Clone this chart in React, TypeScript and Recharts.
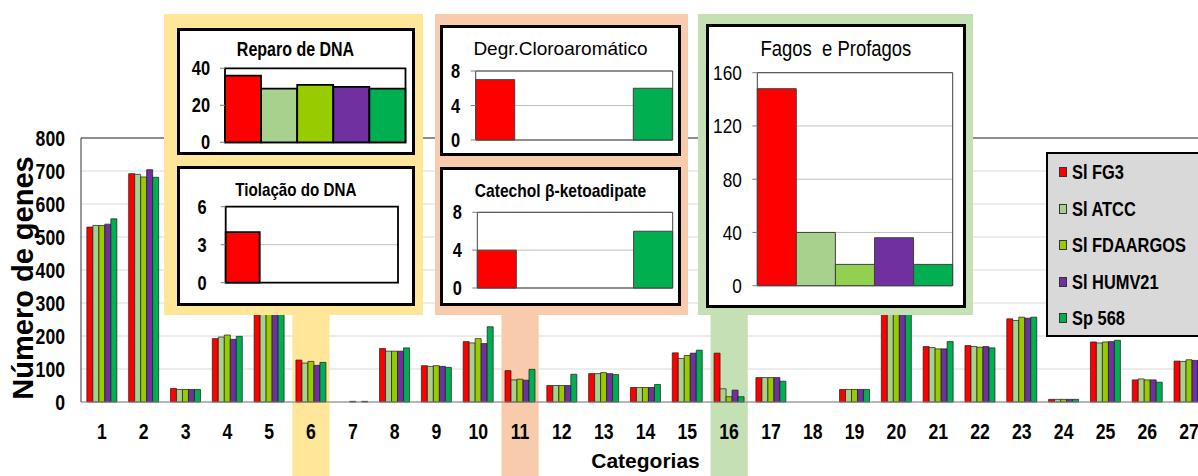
import React from 'react';
import {
  BarChart, Bar, XAxis, YAxis, CartesianGrid, ReferenceArea, ReferenceLine, Cell, Label,
} from 'recharts';

// ---- data ----
const categories = [
  '1', '2', '3', '4', '5', '6', '7', '8', '9', '10', '11', '12', '13', '14',
  '15', '16', '17', '18', '19', '20', '21', '22', '23', '24', '25', '26', '27',
];
const slFG3 = [530, 692, 41, 192, 320, 127, 0, 162, 110, 183, 95, 50, 86, 44, 149, 148, 74, 0, 38, 345, 168, 171, 252, 8, 182, 67, 124];
const slATCC = [535, 690, 38, 197, 318, 118, 0, 154, 108, 179, 67, 50, 86, 44, 132, 40, 74, 0, 38, 342, 165, 168, 247, 8, 179, 70, 123];
const slFDAARGOS = [535, 682, 38, 203, 322, 123, 2, 154, 110, 192, 69, 50, 89, 44, 141, 16, 74, 0, 38, 348, 161, 166, 257, 8, 182, 67, 128];
const slHUMV21 = [539, 704, 38, 190, 316, 111, 0, 154, 108, 177, 66, 50, 86, 44, 148, 36, 74, 0, 38, 344, 161, 168, 254, 8, 183, 67, 126];
const sp568 = [555, 681, 38, 199, 325, 120, 2, 164, 105, 228, 99, 84, 83, 53, 157, 16, 63, 0, 38, 350, 183, 164, 257, 8, 187, 60, 125];

const seriesNames = ['Sl FG3', 'Sl ATCC', 'Sl FDAARGOS', 'Sl HUMV21', 'Sp 568'];
const seriesKeys = ['fg3', 'atcc', 'fdaargos', 'humv21', 'sp568'];
const seriesColors = ['#FF0000', '#A9D18E', '#99CC00', '#7030A0', '#00B050'];
const yTicks = [0, 100, 200, 300, 400, 500, 600, 700, 800];

// highlighted categories and their callout colours
const highlights = [
  { category: '6', color: '#FFE699' },
  { category: '11', color: '#F8CBAD' },
  { category: '16', color: '#C5E0B4' },
];

// inset values, one per strain
const reparoValues = [36, 29, 31, 30, 29];
const tiolacaoValues = [4, 0, 0, 0, 0];
const cloroValues = [7, 0, 0, 0, 6];
const catecholValues = [4, 0, 0, 0, 6];
const fagosValues = [148, 40, 16, 36, 16];
const fagosColors = ['#FF0000', '#A9D18E', '#92D050', '#7030A0', '#00B050'];

const seriesData = [slFG3, slATCC, slFDAARGOS, slHUMV21, sp568];
const mainData = categories.map((cat, i) => {
  const row: Record<string, string | number> = { cat };
  seriesKeys.forEach((k, s) => { row[k] = seriesData[s][i]; });
  return row;
});

const SANS = '"Liberation Sans", Arial, sans-serif';
// no narrow face installed, so squeeze Liberation Sans horizontally
const SQUEEZE = 0.82;

type TickOpts = { size: number; weight: number; axis: 'x' | 'y' };
const narrowTick = (o: TickOpts) => (props: any) => {
  const { x, y, payload } = props;
  const isX = o.axis === 'x';
  return (
    <text transform={`translate(${x},${y}) scale(${SQUEEZE},1)`} textAnchor={isX ? 'middle' : 'end'}
      dy={isX ? '0.71em' : '0.355em'} fill="#000" fontFamily={SANS} fontSize={o.size} fontWeight={o.weight}>
      {payload.value}
    </text>
  );
};

const NarrowText = ({ children, origin = 'center', style }: { children: React.ReactNode; origin?: string; style?: React.CSSProperties }) => (
  <span style={{
    display: 'inline-block', transform: `scaleX(${SQUEEZE})`, transformOrigin: origin,
    whiteSpace: 'pre', lineHeight: 1, ...style,
  }}>{children}</span>
);

const bandShape = (color: string) => (props: any) => {
  const { x, y, width, height } = props;
  const w = width * 0.89;
  return <rect x={x + (width - w) / 2} y={y} width={w} height={height} fill={color} />;
};

const YTitle = (props: any) => {
  const vb = props.viewBox || { y: 138, height: 264 };
  const cx = 33;
  const cy = vb.y + vb.height / 2 + 8;
  return (
    <text x={cx} y={cy} transform={`rotate(-90, ${cx}, ${cy})`} textAnchor="middle"
      fill="#000" fontFamily={SANS} fontWeight={700} fontSize={29}>
      Número de genes
    </text>
  );
};

type Rect = { x: number; y: number; w: number; h: number };
type PlotRect = { left: number; top: number; right: number; bottom: number };

interface InsetProps {
  box: Rect;
  plot: PlotRect;
  title: string;
  titleY: number;
  titleSize: number;
  titleWeight: number;
  titleNarrow: boolean;
  values: number[];
  colors: string[];
  max: number;
  ticks: number[];
  tickSize: number;
  tickWeight: number;
  tickGap: number;
  frame: { stroke: string; width: number };
}

const Inset = (p: InsetProps) => {
  const { box, plot, values, colors, max, frame } = p;
  const B = 3;
  const ix = box.x + B;
  const iy = box.y + B;
  const iw = box.w - 2 * B;
  const ih = box.h - 2 * B;
  const data = seriesNames.map((name, i) => ({ name, value: values[i] }));
  const titleStyle: React.CSSProperties = { fontFamily: SANS, fontSize: p.titleSize, fontWeight: p.titleWeight, color: '#000' };
  return (
    <div style={{
      position: 'absolute', left: box.x, top: box.y, width: box.w, height: box.h,
      border: `${B}px solid #000`, boxSizing: 'border-box', background: '#fff',
    }}>
      <div style={{ position: 'absolute', left: 0, width: iw, top: p.titleY - iy - 0.49 * p.titleSize, textAlign: 'center', lineHeight: 1 }}>
        {p.titleNarrow
          ? <NarrowText style={titleStyle}>{p.title}</NarrowText>
          : <span style={{ ...titleStyle, whiteSpace: 'pre' }}>{p.title}</span>}
      </div>
      <BarChart width={iw} height={ih} data={data} barCategoryGap={0} barGap={0}
        margin={{ top: plot.top - iy, right: ix + iw - plot.right, bottom: iy + ih - plot.bottom, left: 0 }}>
        <CartesianGrid vertical={false} stroke="#BFBFBF" />
        <XAxis dataKey="name" hide />
        <YAxis width={plot.left - ix} domain={[0, max]} ticks={p.ticks} interval={0}
          axisLine={false} tickLine={{ stroke: '#7F7F7F' }} tickSize={5} tickMargin={p.tickGap - 5}
          tick={narrowTick({ size: p.tickSize, weight: p.tickWeight, axis: 'y' })} />
        <Bar dataKey="value" isAnimationActive={false} stroke={frame.stroke} strokeWidth={frame.width}>
          {data.map((d, i) => <Cell key={d.name} fill={colors[i]} />)}
        </Bar>
        <ReferenceArea x1={seriesNames[0]} x2={seriesNames[4]} y1={0} y2={max} fill="none"
          stroke={frame.stroke} strokeWidth={frame.width} ifOverflow="visible" />
      </BarChart>
    </div>
  );
};

const Panel = ({ r, color }: { r: Rect; color: string }) => (
  <div style={{ position: 'absolute', left: r.x, top: r.y, width: r.w, height: r.h, background: color }} />
);

export default function App() {
  return (
    <div style={{
      position: 'fixed', left: 0, top: 0, width: 1198, height: 476, overflow: 'hidden',
      background: '#fff', fontFamily: SANS,
    }}>
      <BarChart width={1230} height={476} data={mainData} barCategoryGap="14%" barGap={0}
        margin={{ top: 138, right: 20, bottom: 0, left: 0 }}>
        <CartesianGrid vertical={false} stroke="#D9D9D9" />
        {highlights.map((h) => (
          <ReferenceArea key={h.category} x1={h.category} x2={h.category} y1={-230} y2={800}
            ifOverflow="visible" shape={bandShape(h.color)} />
        ))}
        {seriesKeys.map((k, i) => (
          <Bar key={k} dataKey={k} name={seriesNames[i]} fill={seriesColors[i]}
            stroke="#1A1A1A" strokeWidth={0.7} isAnimationActive={false} />
        ))}
        <ReferenceLine y={800} stroke="#333" strokeWidth={1.2} />
        <XAxis dataKey="cat" height={74} interval={0} tickLine={false} tickSize={0} tickMargin={22}
          axisLine={{ stroke: '#808080' }}
          tick={narrowTick({ size: 21.5, weight: 700, axis: 'x' })}>
          <Label value="Categorias" position="insideBottom" offset={8} fill="#000"
            style={{ fontFamily: SANS, fontWeight: 700, fontSize: 21 }} />
        </XAxis>
        <YAxis width={81} domain={[0, 800]} ticks={yTicks} interval={0} tickLine={false} tickSize={0}
          tickMargin={16} axisLine={{ stroke: '#333' }}
          tick={narrowTick({ size: 21.5, weight: 700, axis: 'y' })}>
          <Label content={YTitle} />
        </YAxis>
      </BarChart>

      {/* callout panels */}
      <Panel r={{ x: 164, y: 14, w: 259, h: 301 }} color={highlights[0].color} />
      <Panel r={{ x: 435, y: 14, w: 253, h: 301 }} color={highlights[1].color} />
      <Panel r={{ x: 698, y: 14, w: 275, h: 301 }} color={highlights[2].color} />

      <Inset box={{ x: 177, y: 28, w: 238, h: 127 }} plot={{ left: 225, top: 68.3, right: 405.5, bottom: 142.3 }}
        title="Reparo de DNA" titleY={50} titleSize={19.5} titleWeight={700} titleNarrow
        values={reparoValues} colors={seriesColors} max={40} ticks={[0, 20, 40]}
        tickSize={20} tickWeight={700} tickGap={15} frame={{ stroke: '#000', width: 1.8 }} />
      <Inset box={{ x: 177, y: 166, w: 238, h: 140 }} plot={{ left: 225.7, top: 206.7, right: 398, bottom: 282.7 }}
        title="Tiolação do DNA" titleY={190.5} titleSize={18.5} titleWeight={700} titleNarrow
        values={tiolacaoValues} colors={seriesColors} max={6} ticks={[0, 3, 6]}
        tickSize={20} tickWeight={700} tickGap={19} frame={{ stroke: '#000', width: 1.8 }} />

      <Inset box={{ x: 440, y: 25, w: 241, h: 131 }} plot={{ left: 475.7, top: 71, right: 672.7, bottom: 140 }}
        title="Degr.Cloroaromático" titleY={48.5} titleSize={19} titleWeight={400} titleNarrow={false}
        values={cloroValues} colors={seriesColors} max={8} ticks={[0, 4, 8]}
        tickSize={20} tickWeight={700} tickGap={15.5} frame={{ stroke: '#404040', width: 1 }} />
      <Inset box={{ x: 440, y: 167, w: 241, h: 139 }} plot={{ left: 477.3, top: 212.3, right: 672.7, bottom: 288 }}
        title="Catechol β-ketoadipate" titleY={190} titleSize={19} titleWeight={700} titleNarrow
        values={catecholValues} colors={seriesColors} max={8} ticks={[0, 4, 8]}
        tickSize={20} tickWeight={700} tickGap={15.5} frame={{ stroke: '#404040', width: 1 }} />

      <Inset box={{ x: 706, y: 24, w: 260, h: 284 }} plot={{ left: 757.3, top: 72.7, right: 952.7, bottom: 285.7 }}
        title="Fagos  e Profagos" titleY={49.5} titleSize={22.5} titleWeight={400} titleNarrow
        values={fagosValues} colors={fagosColors} max={160} ticks={[0, 40, 80, 120, 160]}
        tickSize={21} tickWeight={400} tickGap={15.5} frame={{ stroke: '#404040', width: 1 }} />

      {/* legend */}
      <div style={{
        position: 'absolute', left: 1046, top: 152, width: 170, height: 185, background: '#D9D9D9',
        border: '2px solid #000', boxSizing: 'border-box',
      }}>
        {seriesNames.map((name, i) => (
          <div key={name} style={{ display: 'flex', alignItems: 'center', height: 36.5 }}>
            <span style={{
              display: 'inline-block', flex: 'none', width: 8, height: 10, marginLeft: 11, marginRight: 5,
              background: seriesColors[i], border: '1px solid #333', boxSizing: 'border-box',
            }} />
            <NarrowText origin="left center" style={{ fontWeight: 700, fontSize: 20, color: '#000' }}>{name}</NarrowText>
          </div>
        ))}
      </div>
    </div>
  );
}
